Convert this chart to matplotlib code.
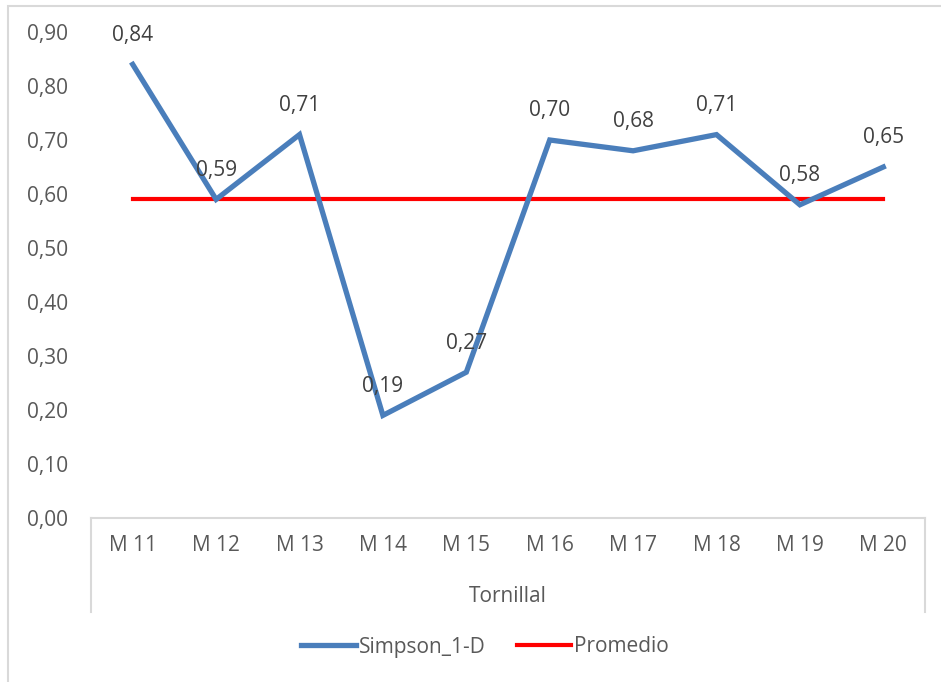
import matplotlib
import matplotlib.pyplot as plt
from matplotlib.lines import Line2D
from matplotlib.patches import Rectangle

matplotlib.use("Agg")

plt.rcParams["font.family"] = ["Open Sans", "DejaVu Sans"]

muestras = ["M 11", "M 12", "M 13", "M 14", "M 15", "M 16", "M 17", "M 18", "M 19", "M 20"]
simpson = [0.84, 0.59, 0.71, 0.19, 0.27, 0.70, 0.68, 0.71, 0.58, 0.65]
promedio = [0.59] * len(muestras)
grupo = "Tornillal"
y_ticks = [0.0, 0.1, 0.2, 0.3, 0.4, 0.5, 0.6, 0.7, 0.8, 0.9]

BLUE = "#4A7EBB"
RED = "#FF0000"
AXIS_GRAY = "#D9D9D9"
TEXT_GRAY = "#595959"
FS = 15
W, H = 941, 682

fig = plt.figure(figsize=(W / 100, H / 100), dpi=100)
ax = fig.add_axes([91 / W, 1 - 518 / H, (925 - 91) / W, (518 - 32) / H])

x = list(range(len(muestras)))
ax.plot(x, simpson, color=BLUE, lw=3.8, solid_joinstyle="miter", label="Simpson_1-D", zorder=3)
ax.plot(x, promedio, color=RED, lw=3.0, label="Promedio", zorder=2)

for xi, v in zip(x, simpson):
    ax.annotate(f"{v:.2f}".replace(".", ","), (xi, v), xytext=(0, 21), textcoords="offset points",
                ha="center", va="center", fontsize=FS, color="#404040")

ax.set_xlim(-0.5, len(muestras) - 0.5)
ax.set_ylim(0, 0.9)
ax.set_yticks(y_ticks)
ax.set_yticklabels([f"{t:.2f}".replace(".", ",") for t in y_ticks])
ax.set_xticks(x)
ax.set_xticklabels(muestras)
ax.tick_params(axis="y", length=0, pad=16.5, labelsize=FS, labelcolor=TEXT_GRAY)
ax.tick_params(axis="x", length=0, pad=12, labelsize=FS, labelcolor=TEXT_GRAY)
for side in ["left", "right", "top"]:
    ax.spines[side].set_visible(False)
ax.spines["bottom"].set_color(AXIS_GRAY)
ax.spines["bottom"].set_linewidth(1.5)

# category group box below the axis
for px in (91, 925):
    fig.add_artist(Line2D([px / W, px / W], [1 - 518 / H, 1 - 612 / H], color=AXIS_GRAY, lw=1.5))
fig.text(508 / W, 1 - 597 / H, grupo, ha="center", va="center", fontsize=FS, color=TEXT_GRAY)

# chart border
fig.add_artist(Rectangle((8 / W, -0.05), 1.1, 1 - 6 / H + 0.05, transform=fig.transFigure,
                         fill=False, edgecolor=AXIS_GRAY, lw=1.5))

fig.legend(loc="center", bbox_to_anchor=(485 / W, 1 - 647 / H), ncol=2, frameon=False,
           fontsize=FS, labelcolor=TEXT_GRAY, handlelength=2.6, handletextpad=0.15,
           columnspacing=1.5)

fig.savefig("out.png", dpi=100)
